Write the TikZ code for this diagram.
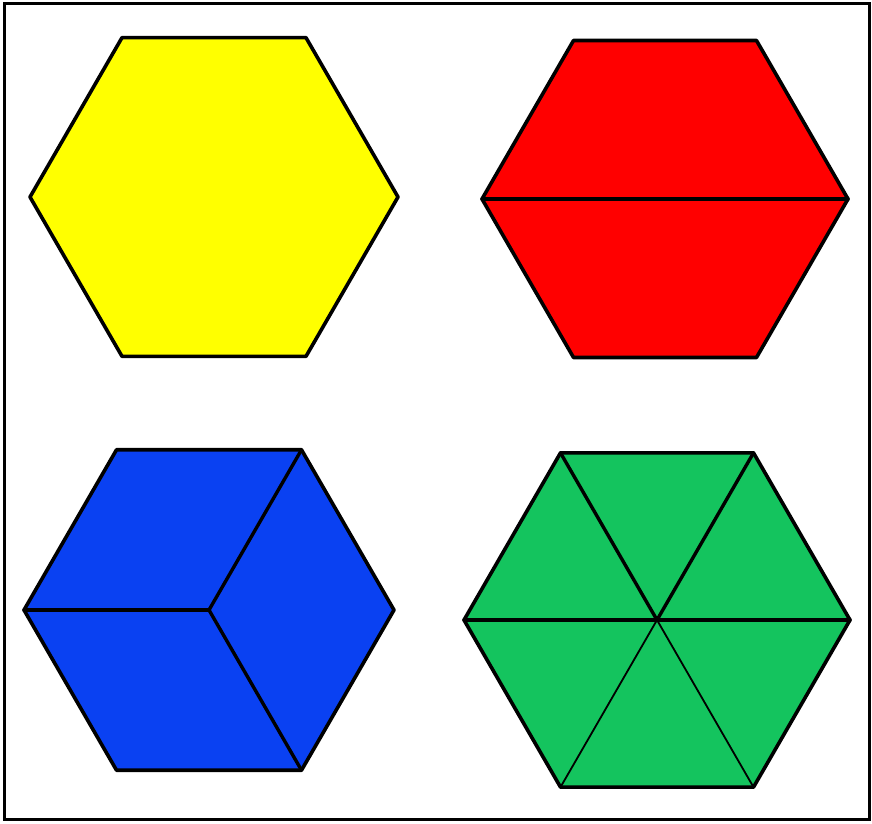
\documentclass[tikz,border=0pt]{standalone}
\usepackage{tikz}
\usetikzlibrary{calc}
\usepackage{xcolor}
\definecolor{hexyellow}{HTML}{FFFF00}
\definecolor{hexred}{HTML}{FF0000}
\definecolor{hexblue}{HTML}{0A41F2}
\definecolor{hexgreen}{HTML}{14C45E}

\begin{document}
\begin{tikzpicture}[
  x=1pt, y=1pt,
  hexface/.style={draw=black, line width=3.6pt, line join=round},
  cutline/.style={draw=black, line width=3.4pt, line cap=round},
  thincut/.style={draw=black, line width=1.8pt, line cap=round},
  frame/.style={draw=black, line width=3pt}
]
\useasboundingbox (0,0) rectangle (872,823);

% ---------------- Frame ----------------
\draw[frame] (4,4) rectangle (869,819);

% ---------------- Centres ----------------
\coordinate (yc) at (214,626);
\coordinate (rc) at (665,624);
\coordinate (bc) at (209,213);
\coordinate (gc) at (657,203);

% ---------------- Corners ----------------
\foreach \a in {0,...,5} {
  \coordinate (y\a) at ($(yc)+(\a*60:184)$);
  \coordinate (r\a) at ($(rc)+(\a*60:183)$);
  \coordinate (b\a) at ($(bc)+(\a*60:185)$);
  \coordinate (g\a) at ($(gc)+(\a*60:193)$);
}

% ---------------- Yellow: whole hexagon ----------------
\draw[hexface, fill=hexyellow] (y0) -- (y1) -- (y2) -- (y3) -- (y4) -- (y5) -- cycle;

% ---------------- Red: two trapezoids ----------------
\draw[hexface, fill=hexred] (r0) -- (r1) -- (r2) -- (r3) -- (r4) -- (r5) -- cycle;
\draw[cutline] (r3) -- (r0);

% ---------------- Blue: three rhombi ----------------
\draw[hexface, fill=hexblue] (b0) -- (b1) -- (b2) -- (b3) -- (b4) -- (b5) -- cycle;
\draw[cutline] (b3) -- (bc);
\draw[cutline] (bc) -- (b1);
\draw[cutline] (bc) -- (b5);

% ---------------- Green: six triangles ----------------
\draw[hexface, fill=hexgreen] (g0) -- (g1) -- (g2) -- (g3) -- (g4) -- (g5) -- cycle;
\draw[cutline] (g3) -- (g0);
\draw[cutline] (g2) -- (gc);
\draw[cutline] (g1) -- (gc);
\draw[thincut] (gc) -- (g4);
\draw[thincut] (gc) -- (g5);

\end{tikzpicture}
\end{document}
